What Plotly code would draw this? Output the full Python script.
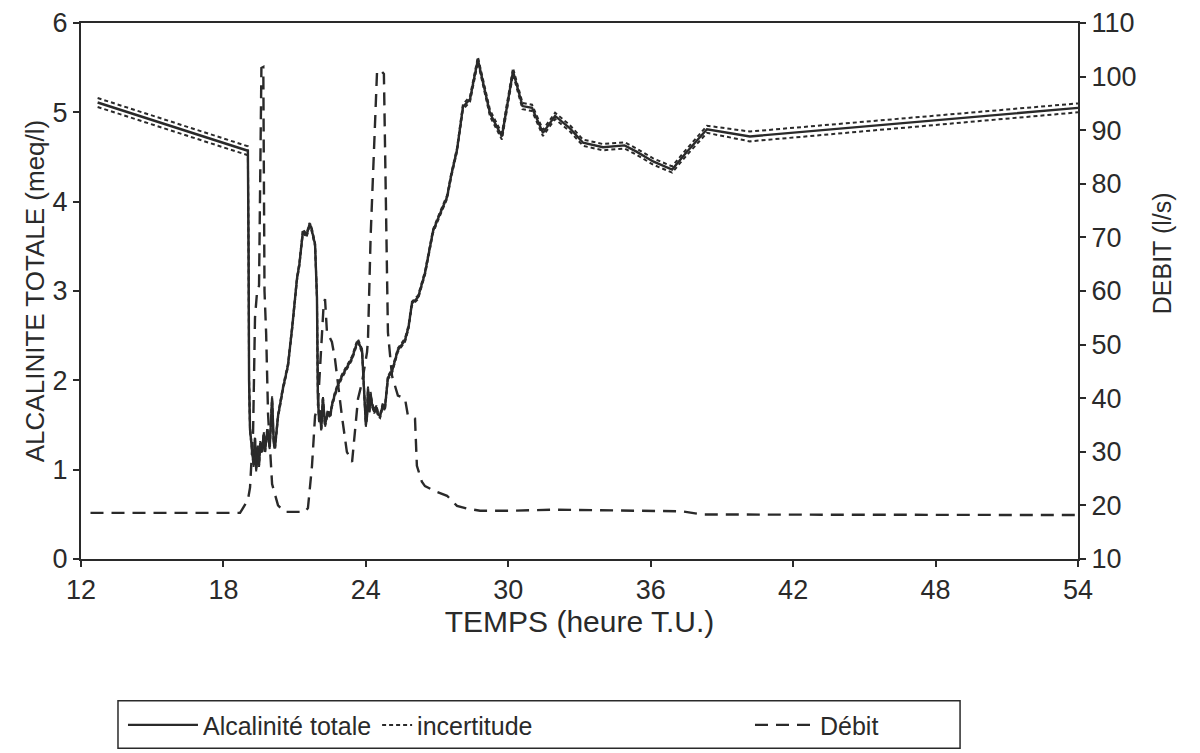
import plotly.graph_objects as go

# ---- data ----
alc_t = [12.7, 19.03, 19.06, 19.08, 19.12, 19.2, 19.27, 19.33, 19.38, 19.45, 19.5, 19.55, 19.62, 19.7, 19.75,
         19.85, 19.95, 20.05, 20.12, 20.17, 20.3, 20.5, 20.72, 20.9, 21.1, 21.2, 21.35, 21.5, 21.62, 21.69,
         21.86, 21.94, 21.98, 22.03, 22.07, 22.12, 22.19, 22.28, 22.4, 22.5, 22.57, 22.7, 22.83, 23.0, 23.2,
         23.42, 23.6, 23.67, 23.84, 23.92, 23.96, 24.0, 24.05, 24.09, 24.15, 24.2, 24.26, 24.35, 24.45, 24.51,
         24.6, 24.72, 24.8, 24.93, 25.1, 25.35, 25.65, 25.8, 25.94, 26.2, 26.49, 26.83, 27.1, 27.42, 27.6,
         27.84, 28.09, 28.39, 28.5, 28.72, 29.23, 29.73, 30.2, 30.6, 31.0, 31.46, 31.97, 32.6, 33.15, 33.99,
         34.9, 35.4, 36.1, 36.9, 37.5, 38.37, 40.18, 54.0]
alc_v = [5.11, 4.57, 3.4, 2.0, 1.45, 1.2, 1.05, 1.35, 1.0, 1.25, 1.05, 1.3, 1.2, 1.4, 1.2,
         1.45, 1.25, 1.8, 1.3, 1.24, 1.6, 1.9, 2.17, 2.6, 3.14, 3.3, 3.67, 3.62, 3.74, 3.72,
         3.52, 2.93, 1.81, 1.55, 1.66, 1.45, 1.8, 1.5, 1.65, 1.6, 1.72, 1.85, 1.95, 2.05, 2.15,
         2.25, 2.4, 2.44, 2.33, 1.9, 1.8, 1.5, 1.6, 1.91, 1.65, 1.85, 1.73, 1.65, 1.7, 1.62,
         1.6, 1.73, 1.68, 2.03, 2.1, 2.34, 2.45, 2.6, 2.86, 2.93, 3.2, 3.67, 3.85, 4.05, 4.3,
         4.58, 5.06, 5.15, 5.3, 5.59, 4.99, 4.73, 5.46, 5.07, 5.05, 4.77, 4.96, 4.82, 4.66, 4.61,
         4.63, 4.56, 4.45, 4.36, 4.55, 4.81, 4.73, 5.05]
# half-width of the uncertainty band (meq/l), read per point
alc_inc = [0.05, 0.05, 0.02, 0.02, 0.02, 0.02, 0.02, 0.02, 0.02, 0.02, 0.02, 0.02, 0.02, 0.02, 0.02,
           0.02, 0.02, 0.02, 0.02, 0.02, 0.02, 0.02, 0.02, 0.02, 0.02, 0.02, 0.02, 0.02, 0.02, 0.02,
           0.02, 0.02, 0.02, 0.02, 0.02, 0.02, 0.02, 0.02, 0.02, 0.02, 0.02, 0.02, 0.02, 0.02, 0.02,
           0.02, 0.02, 0.02, 0.02, 0.02, 0.02, 0.02, 0.02, 0.02, 0.02, 0.02, 0.02, 0.02, 0.02, 0.02,
           0.02, 0.02, 0.02, 0.02, 0.02, 0.02, 0.02, 0.02, 0.02, 0.02, 0.02, 0.02, 0.02, 0.02, 0.02,
           0.02, 0.03, 0.03, 0.03, 0.03, 0.035, 0.035, 0.035, 0.035, 0.035, 0.035, 0.035, 0.035, 0.035, 0.035,
           0.035, 0.035, 0.035, 0.035, 0.035, 0.04, 0.055, 0.05]

deb_t = [12.4, 18.7, 19.03, 19.12, 19.25, 19.33, 19.41, 19.5, 19.6, 19.68, 19.73, 19.8, 19.88, 20.05, 20.3,
         20.59, 21.44, 21.56, 21.73, 21.86, 21.98, 22.15, 22.22, 22.28, 22.36, 22.57, 22.7, 22.99, 23.2, 23.42,
         23.54, 23.67, 23.84, 24.05, 24.09, 24.2, 24.47, 24.6, 24.76, 24.85, 24.93, 25.1, 25.35, 25.65, 25.77,
         26.07, 26.15, 26.36, 26.49, 26.99, 27.42, 27.84, 28.26, 28.81, 30.0, 32.0, 34.0, 36.0, 37.3, 38.2,
         40.0, 46.0, 54.0]
deb_v = [18.6, 18.6, 21.0, 23.3, 33.8, 55.0, 59.5, 61.0, 101.6, 101.8, 60.0, 52.0, 37.0, 24.0, 20.0,
         18.8, 18.8, 19.5, 27.3, 36.7, 38.6, 50.5, 57.3, 58.5, 52.4, 50.5, 47.3, 36.7, 30.0, 28.1,
         33.7, 39.9, 43.0, 48.6, 51.0, 70.0, 100.8, 101.3, 100.5, 70.0, 52.3, 44.2, 40.5, 39.9, 36.8,
         36.2, 27.4, 24.4, 23.6, 22.5, 21.8, 19.9, 19.4, 19.0, 19.0, 19.2, 19.1, 19.0, 18.9, 18.3,
         18.3, 18.2, 18.2]

x_ticks = [12, 18, 24, 30, 36, 42, 48, 54]
y_ticks = [0, 1, 2, 3, 4, 5, 6]
y2_ticks = [10, 20, 30, 40, 50, 60, 70, 80, 90, 100, 110]

names = ["Alcalinité totale", "incertitude", "Débit"]

# ---- figure ----
INK = "#2a2a2a"
FONT = "Liberation Sans, Arial, Helvetica, sans-serif"

inc_up = [v + d for v, d in zip(alc_v, alc_inc)]
inc_lo = [v - d for v, d in zip(alc_v, alc_inc)]

fig = go.Figure()
fig.add_trace(go.Scatter(x=alc_t, y=alc_v, mode="lines", name=names[0], legend="legend",
                         line=dict(color=INK, width=2.4)))
fig.add_trace(go.Scatter(x=alc_t, y=inc_up, mode="lines", name=names[1], legend="legend3",
                         legendgroup="inc", line=dict(color=INK, width=2, dash="4px,3px")))
fig.add_trace(go.Scatter(x=alc_t, y=inc_lo, mode="lines", name=names[1], legend="legend3",
                         legendgroup="inc", showlegend=False,
                         line=dict(color=INK, width=2, dash="4px,3px")))
fig.add_trace(go.Scatter(x=deb_t, y=deb_v, mode="lines", name=names[2], yaxis="y2", legend="legend2",
                         line=dict(color=INK, width=2.4, dash="13px,8px")))

axis_common = dict(showline=True, linecolor=INK, linewidth=2, ticks="outside", ticklen=6,
                   tickwidth=1.5, tickcolor=INK, showgrid=False, zeroline=False, automargin=False,
                   tickfont=dict(size=27, color=INK, family=FONT))

leg_common = dict(orientation="h", xanchor="left", y=-0.31, yanchor="middle",
                  borderwidth=0, bgcolor="rgba(0,0,0,0)",
                  font=dict(size=25, color=INK, family=FONT))

# page body adds an 8 px offset; plot area lands at x 81..1078, y 23..559 on screen
fig.update_layout(
    width=1200, height=753,
    paper_bgcolor="white", plot_bgcolor="white",
    margin=dict(l=73, r=130, t=15, b=202),
    font=dict(family=FONT, color=INK),
    xaxis=dict(range=[12, 54], tickvals=x_ticks, mirror=True,
               title=dict(text="TEMPS (heure T.U.)", font=dict(size=30, color=INK), standoff=2),
               **axis_common),
    yaxis=dict(range=[0, 6], tickvals=y_ticks,
               title=dict(text="ALCALINITE TOTALE (meq/l)", font=dict(size=26, color=INK), standoff=0),
               **axis_common),
    yaxis2=dict(range=[10, 110], tickvals=y2_ticks, overlaying="y", side="right", **axis_common),
    showlegend=True,
    legend=dict(x=0.0421, itemwidth=70, **leg_common),
    legend3=dict(x=0.297, itemwidth=30, **leg_common),
    legend2=dict(x=0.671, itemwidth=60, **leg_common),
    shapes=[dict(type="rect", xref="paper", yref="paper", x0=0.0371, x1=0.8817,
                 y0=-0.353, y1=-0.2645, line=dict(color=INK, width=1.5), layer="above")],
    annotations=[dict(text="DEBIT (l/s)", xref="paper", yref="paper", x=1.085, y=0.57,
                      xanchor="center", yanchor="middle", textangle=-90, showarrow=False,
                      font=dict(size=25, color=INK, family=FONT))],
)

fig.write_html("out.html")
